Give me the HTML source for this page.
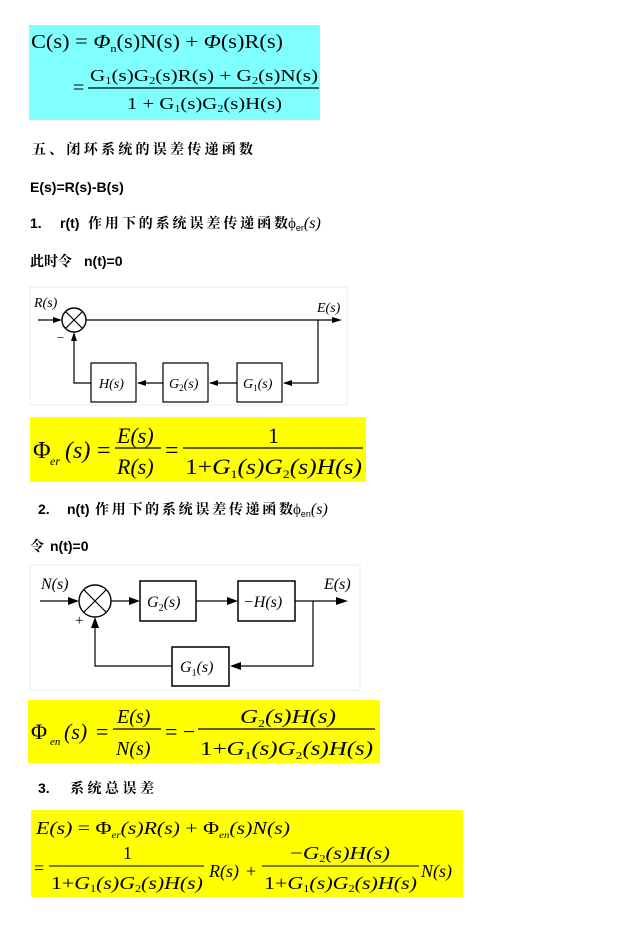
<!DOCTYPE html>
<html><head><meta charset="utf-8"><style>
html,body{margin:0;padding:0;background:#fff;}
svg{display:block;}
.m{font-family:"Liberation Serif",serif;}
.i{font-family:"Liberation Serif",serif;font-style:italic;}
.c{font-family:"Liberation Serif","Noto Serif CJK SC",serif;font-size:14px;font-weight:bold;}
.b{font-family:"Liberation Sans",sans-serif;font-weight:bold;font-size:14px;}
</style></head><body>
<svg width="636" height="926" xmlns="http://www.w3.org/2000/svg">
<rect x="29" y="25" width="291" height="95" fill="#80ffff"/>
<text class="m" x="31" y="48" font-size="20" textLength="252" lengthAdjust="spacingAndGlyphs">C(s) = <tspan font-style="italic">Φ</tspan><tspan font-size="11" dy="4">n</tspan><tspan dy="-4">(s)N(s) + </tspan><tspan font-style="italic">Φ</tspan>(s)R(s)</text>
<text class="m" x="73" y="94" font-size="20">=</text>
<text class="m" x="90" y="81" font-size="17" textLength="228" lengthAdjust="spacingAndGlyphs">G<tspan font-size="10" dy="3">1</tspan><tspan dy="-3">(s)G</tspan><tspan font-size="10" dy="3">2</tspan><tspan dy="-3">(s)R(s) + G</tspan><tspan font-size="10" dy="3">2</tspan><tspan dy="-3">(s)N(s)</tspan></text>
<line x1="88" y1="88" x2="319" y2="88" stroke="#000" stroke-width="1.2"/>
<text class="m" x="127" y="109" font-size="17" textLength="155" lengthAdjust="spacingAndGlyphs">1 + G<tspan font-size="10" dy="3">1</tspan><tspan dy="-3">(s)G</tspan><tspan font-size="10" dy="3">2</tspan><tspan dy="-3">(s)H(s)</tspan></text>

<text class="c" x="32" y="154" textLength="221" lengthAdjust="spacing">五、闭环系统的误差传递函数</text>
<text class="b" x="30" y="192">E(s)=R(s)-B(s)</text>
<text class="b" x="30" y="228">1.</text>
<text class="b" x="60" y="228">r(t)</text>
<text class="c" x="88" y="228" textLength="200" lengthAdjust="spacing">作用下的系统误差传递函数</text>
<text class="m" x="288" y="228" font-size="15">ϕ<tspan font-size="9" font-family="Liberation Sans" dy="3">er</tspan><tspan dy="-3" font-style="italic" font-size="16">(s)</tspan></text>
<text class="c" x="30" y="266">此时令</text>
<text class="b" x="84" y="266">n(t)=0</text>

<rect x="30" y="287" width="317" height="118" fill="none" stroke="#e6f6fb" stroke-width="1.5"/>
<text class="i" x="34" y="307" font-size="14">R(s)</text>
<line x1="38" y1="320" x2="60" y2="320" stroke="#000" stroke-width="1.2"/>
<polygon points="62,320 53,317 53,323" fill="#000"/>
<circle cx="74" cy="320" r="12" fill="#fff" stroke="#000" stroke-width="1.4"/>
<line x1="66" y1="312" x2="82" y2="328" stroke="#000" stroke-width="1.2"/>
<line x1="82" y1="312" x2="66" y2="328" stroke="#000" stroke-width="1.2"/>
<line x1="86" y1="320" x2="336" y2="320" stroke="#000" stroke-width="1.2"/>
<polygon points="342,320 332,317 332,323" fill="#000"/>
<text class="i" x="317" y="312" font-size="14">E(s)</text>
<line x1="318" y1="320" x2="318" y2="383" stroke="#000" stroke-width="1.2"/>
<line x1="318" y1="383" x2="284" y2="383" stroke="#000" stroke-width="1.2"/>
<polygon points="283,383 292,380 292,386" fill="#000"/>
<rect x="237" y="363" width="45" height="39" fill="#fff" stroke="#000" stroke-width="1.2"/>
<text class="i" x="243" y="388" font-size="14">G<tspan font-size="9" dy="3" font-style="normal">1</tspan><tspan dy="-3">(s)</tspan></text>
<line x1="237" y1="383" x2="210" y2="383" stroke="#000" stroke-width="1.2"/>
<polygon points="209,383 218,380 218,386" fill="#000"/>
<rect x="163" y="363" width="45" height="39" fill="#fff" stroke="#000" stroke-width="1.2"/>
<text class="i" x="169" y="388" font-size="14">G<tspan font-size="9" dy="3" font-style="normal">2</tspan><tspan dy="-3">(s)</tspan></text>
<line x1="163" y1="383" x2="138" y2="383" stroke="#000" stroke-width="1.2"/>
<polygon points="137,383 146,380 146,386" fill="#000"/>
<rect x="91" y="363" width="45" height="39" fill="#fff" stroke="#000" stroke-width="1.2"/>
<text class="i" x="99" y="388" font-size="14">H(s)</text>
<polyline points="91,383 74,383 74,334" fill="none" stroke="#000" stroke-width="1.2"/>
<polygon points="74,332 71,341 77,341" fill="#000"/>
<text class="m" x="57" y="342" font-size="13">−</text>

<rect x="30" y="417" width="336" height="65" fill="#ffff00"/>
<text class="m" x="33" y="458" font-size="24">Φ</text>
<text class="i" x="50" y="465" font-size="12">er</text>
<text class="i" x="65" y="458" font-size="24">(s)</text>
<text class="m" x="97" y="458" font-size="24">=</text>
<text class="i" x="117" y="443" font-size="22">E(s)</text>
<line x1="115" y1="448" x2="161" y2="448" stroke="#000" stroke-width="1.2"/>
<text class="i" x="117" y="474" font-size="22">R(s)</text>
<text class="m" x="165" y="458" font-size="24">=</text>
<text class="m" x="268" y="443" font-size="22">1</text>
<line x1="183" y1="448" x2="363" y2="448" stroke="#000" stroke-width="1.2"/>
<text class="i" x="185" y="474" font-size="22" textLength="177" lengthAdjust="spacingAndGlyphs"><tspan font-style="normal">1+</tspan>G<tspan font-size="12" dy="4" font-style="normal">1</tspan><tspan dy="-4">(s)G</tspan><tspan font-size="12" dy="4" font-style="normal">2</tspan><tspan dy="-4">(s)H(s)</tspan></text>

<text class="b" x="38" y="514">2.</text>
<text class="b" x="67" y="514">n(t)</text>
<text class="c" x="95" y="514" textLength="198" lengthAdjust="spacing">作用下的系统误差传递函数</text>
<text class="m" x="293" y="514" font-size="15">ϕ<tspan font-size="9" font-family="Liberation Sans" dy="3">en</tspan><tspan dy="-3" font-style="italic" font-size="16">(s)</tspan></text>
<text class="c" x="30" y="551">令</text>
<text class="b" x="50" y="551">n(t)=0</text>

<rect x="30" y="565" width="330" height="125" fill="none" stroke="#e6f6fb" stroke-width="1.5"/>
<text class="i" x="41" y="589" font-size="16">N(s)</text>
<line x1="40" y1="601" x2="76" y2="601" stroke="#000" stroke-width="1.2"/>
<polygon points="79,601 68,597 68,605" fill="#000"/>
<circle cx="95" cy="601" r="16" fill="#fff" stroke="#000" stroke-width="1.4"/>
<line x1="84" y1="590" x2="106" y2="612" stroke="#000" stroke-width="1.2"/>
<line x1="106" y1="590" x2="84" y2="612" stroke="#000" stroke-width="1.2"/>
<line x1="111" y1="601" x2="135" y2="601" stroke="#000" stroke-width="1.2"/>
<polygon points="140,601 129,597 129,605" fill="#000"/>
<rect x="140" y="581" width="56" height="40" fill="#fff" stroke="#000" stroke-width="1.5"/>
<text class="i" x="147" y="607" font-size="16">G<tspan font-size="10" dy="4" font-style="normal">2</tspan><tspan dy="-4">(s)</tspan></text>
<line x1="196" y1="601" x2="233" y2="601" stroke="#000" stroke-width="1.2"/>
<polygon points="238,601 227,597 227,605" fill="#000"/>
<rect x="238" y="581" width="57" height="40" fill="#fff" stroke="#000" stroke-width="1.5"/>
<text class="i" x="243" y="607" font-size="16">−H(s)</text>
<line x1="295" y1="601" x2="342" y2="601" stroke="#000" stroke-width="1.2"/>
<polygon points="348,601 336,597 336,605" fill="#000"/>
<text class="i" x="324" y="589" font-size="16">E(s)</text>
<polyline points="313,601 313,666 235,666" fill="none" stroke="#000" stroke-width="1.2"/>
<polygon points="230,666 241,662 241,670" fill="#000"/>
<rect x="172" y="647" width="57" height="39" fill="#fff" stroke="#000" stroke-width="1.5"/>
<text class="i" x="180" y="672" font-size="16">G<tspan font-size="10" dy="4" font-style="normal">1</tspan><tspan dy="-4">(s)</tspan></text>
<polyline points="172,666 95,666 95,620" fill="none" stroke="#000" stroke-width="1.2"/>
<polygon points="95,617 91,628 99,628" fill="#000"/>
<text class="m" x="75" y="625" font-size="15">+</text>

<rect x="28" y="700" width="352" height="63" fill="#ffff00"/>
<text class="m" x="31" y="739" font-size="22">Φ</text>
<text class="i" x="50" y="745" font-size="11">en</text>
<text class="i" x="64" y="739" font-size="22">(s)</text>
<text class="m" x="96" y="739" font-size="22">=</text>
<text class="i" x="117" y="723" font-size="20">E(s)</text>
<line x1="113" y1="729" x2="161" y2="729" stroke="#000" stroke-width="1.2"/>
<text class="i" x="116" y="755" font-size="20">N(s)</text>
<text class="m" x="165" y="739" font-size="22">= −</text>
<text class="i" x="240" y="723" font-size="20" textLength="96" lengthAdjust="spacingAndGlyphs">G<tspan font-size="11" dy="4" font-style="normal">2</tspan><tspan dy="-4">(s)H(s)</tspan></text>
<line x1="198" y1="729" x2="375" y2="729" stroke="#000" stroke-width="1.2"/>
<text class="i" x="200" y="755" font-size="20" textLength="173" lengthAdjust="spacingAndGlyphs"><tspan font-style="normal">1+</tspan>G<tspan font-size="11" dy="4" font-style="normal">1</tspan><tspan dy="-4">(s)G</tspan><tspan font-size="11" dy="4" font-style="normal">2</tspan><tspan dy="-4">(s)H(s)</tspan></text>

<text class="b" x="38" y="793">3.</text>
<text class="c" x="70" y="793" textLength="84" lengthAdjust="spacing">系统总误差</text>

<rect x="31" y="810" width="432" height="87" fill="#ffff00"/>
<text class="i" x="36" y="834" font-size="18" textLength="254" lengthAdjust="spacingAndGlyphs">E(s)<tspan font-style="normal"> = Φ</tspan><tspan font-size="9" dy="4">er</tspan><tspan dy="-4">(s)R(s)</tspan><tspan font-style="normal"> + Φ</tspan><tspan font-size="9" dy="4">en</tspan><tspan dy="-4">(s)N(s)</tspan></text>
<text class="m" x="34" y="874" font-size="18">=</text>
<text class="m" x="123" y="859" font-size="18">1</text>
<line x1="49" y1="866" x2="204" y2="866" stroke="#000" stroke-width="1.1"/>
<text class="i" x="51" y="889" font-size="18" textLength="152" lengthAdjust="spacingAndGlyphs"><tspan font-style="normal">1+</tspan>G<tspan font-size="10" dy="3" font-style="normal">1</tspan><tspan dy="-3">(s)G</tspan><tspan font-size="10" dy="3" font-style="normal">2</tspan><tspan dy="-3">(s)H(s)</tspan></text>
<text class="i" x="209" y="877" font-size="18">R(s)</text>
<text class="m" x="246" y="877" font-size="18">+</text>
<text class="i" x="290" y="859" font-size="18" textLength="100" lengthAdjust="spacingAndGlyphs"><tspan font-style="normal">−</tspan>G<tspan font-size="10" dy="3" font-style="normal">2</tspan><tspan dy="-3">(s)H(s)</tspan></text>
<line x1="262" y1="866" x2="419" y2="866" stroke="#000" stroke-width="1.1"/>
<text class="i" x="264" y="889" font-size="18" textLength="153" lengthAdjust="spacingAndGlyphs"><tspan font-style="normal">1+</tspan>G<tspan font-size="10" dy="3" font-style="normal">1</tspan><tspan dy="-3">(s)G</tspan><tspan font-size="10" dy="3" font-style="normal">2</tspan><tspan dy="-3">(s)H(s)</tspan></text>
<text class="i" x="421" y="877" font-size="18">N(s)</text>
</svg>
</body></html>
